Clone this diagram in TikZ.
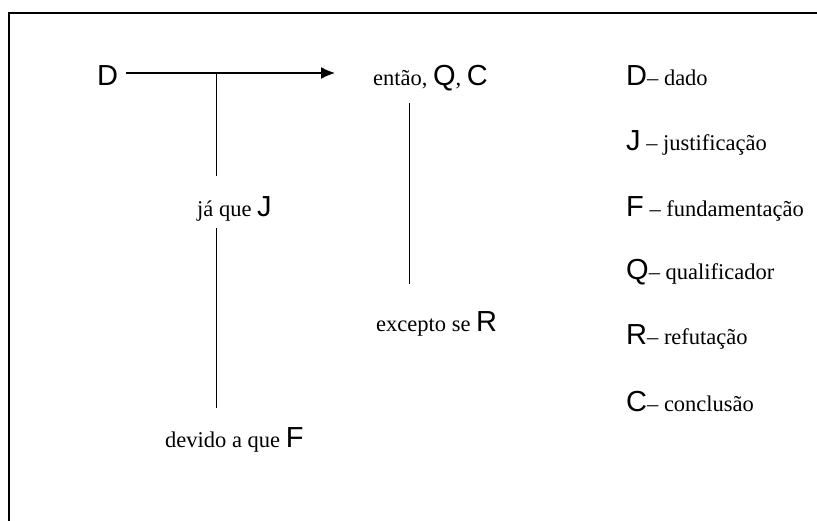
\documentclass[tikz,border=0pt]{standalone}
\usepackage{fontspec}
\setmainfont{Liberation Serif}
\newfontfamily\arialf{Liberation Sans}
\usetikzlibrary{arrows.meta}
\newcommand{\sv}[1]{{\arialf\fontsize{29}{34}\selectfont #1}}
\tikzset{
  lbl/.style={anchor=base west, inner sep=0pt, font=\fontsize{22.5}{26}\selectfont},
  conn/.style={line width=1.4pt},
  frame/.style={line width=2pt}
}
\begin{document}
\begin{tikzpicture}[x=1pt,y=-1pt]
\useasboundingbox (0,0) rectangle (817,521);
% frame
\coordinate (fr1) at (9,521);
\coordinate (fr2) at (9,13.5);
\coordinate (fr3) at (817,13.5);
\draw[frame] (fr1) -- (fr2) -- (fr3);
% main nodes
\node[lbl] (d) at (97,86) {\sv{D}};
\node[lbl] (entao) at (373,86) {então, \sv{Q}, \sv{C}};
\node[lbl] (jaque) at (197,217) {já que \sv{J}};
\node[lbl] (excepto) at (376,332) {excepto se \sv{R}};
\node[lbl] (devido) at (165,447) {devido a que \sv{F}};
% connector points
\coordinate (a0) at (126,73);
\coordinate (a1) at (335,73);
\coordinate (j0) at (216.7,73);
\coordinate (j1) at (216.7,176);
\coordinate (j2) at (216.7,228);
\coordinate (j3) at (216.7,408);
\coordinate (r0) at (409.3,103);
\coordinate (r1) at (409.3,284);
\draw[conn,-{Latex[length=14pt,width=12pt]}] (a0) -- (a1);
\draw[conn] (j0) -- (j1);
\draw[conn] (j2) -- (j3);
\draw[conn] (r0) -- (r1);
% legend
\node[lbl] (ld) at (626,86) {\sv{D}– dado};
\node[lbl] (lj) at (626,151) {\sv{J} – justificação};
\node[lbl] (lf) at (626,217) {\sv{F} – fundamentação};
\node[lbl] (lq) at (626,280) {\sv{Q}– qualificador};
\node[lbl] (lr) at (626,345) {\sv{R}– refutação};
\node[lbl] (lc) at (626,411) {\sv{C}– conclusão};
\end{tikzpicture}
\end{document}
